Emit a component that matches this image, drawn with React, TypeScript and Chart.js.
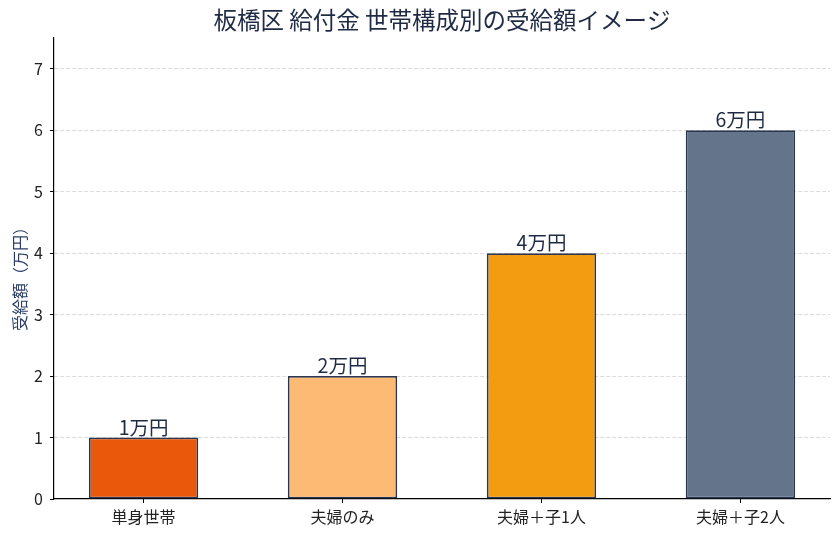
import React, { useEffect, useRef } from 'react';
import { Chart, registerables } from 'chart.js';

Chart.register(...registerables);

const categories = ['単身世帯', '夫婦のみ', '夫婦＋子1人', '夫婦＋子2人'];
const amounts = [1, 2, 4, 6];
const barColors = ['#EA580C', '#FDBA74', '#F39C12', '#64748B'];
const yTicks = [0, 1, 2, 3, 4, 5, 6, 7];
const titleText = '板橋区 給付金 世帯構成別の受給額イメージ';
const yAxisLabel = '受給額（万円）';
const unitSuffix = '万円';

const FONT = '"Noto Sans CJK JP", "Noto Sans", sans-serif';
const NAVY = '#1f2a44';

const textPlugin = {
  id: 'textPlugin',
  afterDatasetsDraw(chart: any) {
    const { ctx } = chart;
    const meta = chart.getDatasetMeta(0);
    ctx.save();
    ctx.fillStyle = NAVY;
    ctx.font = `19.5px ${FONT}`;
    ctx.textAlign = 'center';
    ctx.textBaseline = 'alphabetic';
    meta.data.forEach((bar: any, i: number) => {
      ctx.fillText(`${amounts[i]}${unitSuffix}`, bar.x, bar.y - 3);
    });
    ctx.restore();
  },
  afterDraw(chart: any) {
    const { ctx, chartArea } = chart;
    ctx.save();
    ctx.fillStyle = NAVY;
    ctx.font = `23.5px ${FONT}`;
    ctx.textAlign = 'center';
    ctx.textBaseline = 'middle';
    ctx.fillText(titleText, (chartArea.left + chartArea.right) / 2, 20);
    ctx.restore();

    // y-axis label, drawn glyph by glyph so full-width brackets keep their width
    ctx.save();
    ctx.fillStyle = '#2c3e66';
    const size = 16;
    ctx.font = `${size}px ${FONT}`;
    ctx.textAlign = 'left';
    ctx.textBaseline = 'middle';
    const chars = Array.from(yAxisLabel);
    const widths = chars.map((ch) => Math.max(ctx.measureText(ch).width, size));
    const total = widths.reduce((a, b) => a + b, 0);
    ctx.translate(19.5, (chartArea.top + chartArea.bottom) / 2 + 6.5);
    ctx.rotate(-Math.PI / 2);
    let x = -total / 2;
    chars.forEach((ch, i) => {
      ctx.fillText(ch, x, 0);
      x += widths[i];
    });
    ctx.restore();
  },
};

export default function App() {
  const ref = useRef<HTMLCanvasElement | null>(null);
  useEffect(() => {
    if (!ref.current) return;
    const chart = new Chart(ref.current, {
      type: 'bar',
      data: {
        datasets: [
          {
            data: amounts.map((v, i) => ({ x: i, y: v })),
            backgroundColor: barColors,
            borderColor: '#2b3650',
            borderWidth: 1.8,
            borderSkipped: false,
            barPercentage: 0.55,
            categoryPercentage: 1,
          } as any,
        ],
      },
      options: {
        animation: false,
        responsive: false,
        devicePixelRatio: 1,
        layout: { padding: { top: 38, right: 8, bottom: 0, left: 0 } },
        plugins: {
          legend: { display: false },
          title: { display: false },
          tooltip: { enabled: false },
        },
        scales: {
          x: {
            type: 'linear',
            min: -0.45,
            max: 3.45,
            offset: false,
            afterBuildTicks: (scale: any) => {
              scale.ticks = categories.map((_, i) => ({ value: i }));
            },
            afterFit: (scale: any) => {
              scale.height = 36;
            },
            ticks: {
              callback: (value: any) => categories[value as number] ?? '',
              color: '#222',
              font: { family: FONT, size: 16 },
              padding: 4,
              maxRotation: 0,
              autoSkip: false,
            },
            grid: {
              offset: false,
              drawOnChartArea: false,
              drawTicks: true,
              tickLength: 4,
              tickColor: '#000',
              tickWidth: 1,
            },
            border: { display: true, color: '#000', width: 1.2 },
          },
          y: {
            type: 'linear',
            min: 0,
            max: 7.5,
            afterBuildTicks: (scale: any) => {
              scale.ticks = yTicks.map((v) => ({ value: v }));
            },
            afterFit: (scale: any) => {
              scale.width = 54;
            },
            ticks: {
              color: '#222',
              font: { family: FONT, size: 16 },
              padding: 7,
            },
            grid: {
              color: (c: any) => (c.tick && c.tick.value === 0 ? 'rgba(0,0,0,0)' : '#dcdcdc'),
              lineWidth: 1,
              drawTicks: true,
              tickLength: 4,
              tickColor: '#000',
              tickWidth: 1,
            },
            border: { display: true, color: '#000', width: 1.2, dash: [4, 2] },
          },
        },
      },
      plugins: [textPlugin],
    });
    return () => chart.destroy();
  }, []);
  return (
    <div style={{ position: 'fixed', left: 0, top: 0, width: 838, height: 535, background: '#fff' }}>
      <canvas ref={ref} width={838} height={535} />
    </div>
  );
}
